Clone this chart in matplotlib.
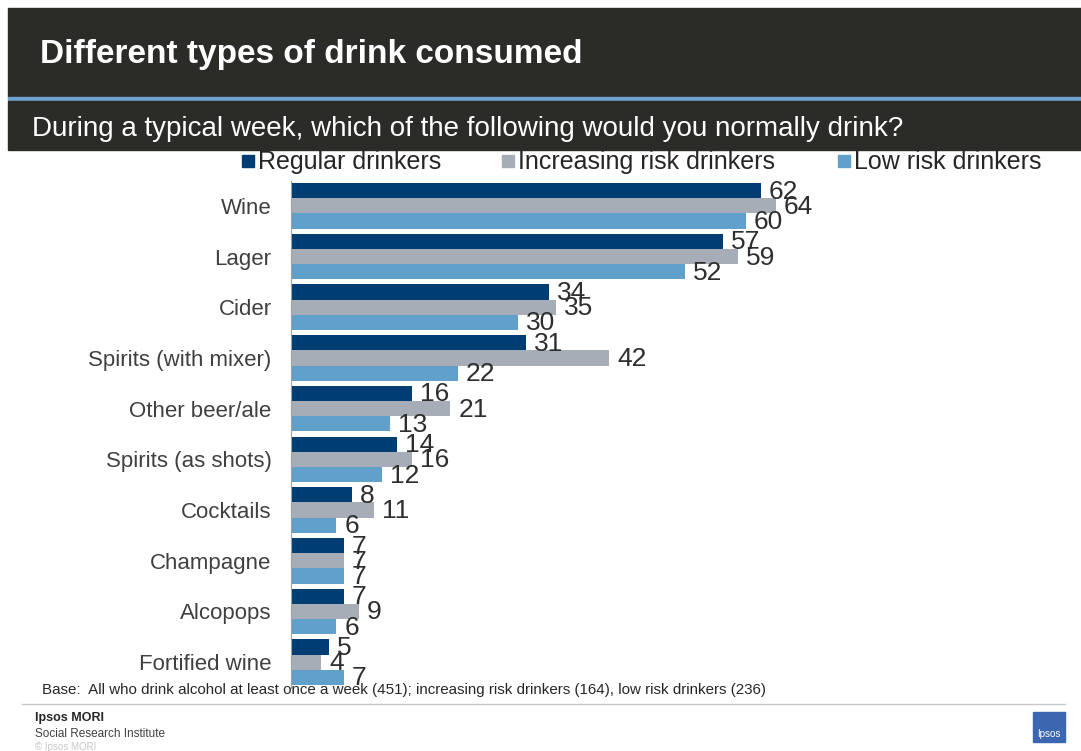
import numpy as np
import matplotlib
matplotlib.use('Agg')
import matplotlib.pyplot as plt
from matplotlib.patches import Rectangle

plt.rcParams['font.family'] = ['Liberation Sans', 'DejaVu Sans']

categories = ['Wine', 'Lager', 'Cider', 'Spirits (with mixer)', 'Other beer/ale',
              'Spirits (as shots)', 'Cocktails', 'Champagne', 'Alcopops', 'Fortified wine']
regular = [62, 57, 34, 31, 16, 14, 8, 7, 7, 5]
increasing = [64, 59, 35, 42, 21, 16, 11, 7, 9, 4]
low_risk = [60, 52, 30, 22, 13, 12, 6, 7, 6, 7]
series_names = ['Regular drinkers', 'Increasing risk drinkers', 'Low risk drinkers']
colors = ['#003d73', '#a6adb6', '#62a0cc']

W, H = 1081, 751
fig = plt.figure(figsize=(W / 100, H / 100), dpi=100)
fig.patch.set_facecolor('white')

def fx(px):
    return px / W

def fy(py):
    return 1 - py / H

# header bands
fig.patches.append(Rectangle((fx(8), fy(97)), fx(W - 8), 89 / H, transform=fig.transFigure,
                             color='#2b2b27', zorder=0))
fig.patches.append(Rectangle((fx(8), fy(101)), fx(W - 8), 4 / H, transform=fig.transFigure,
                             color='#6ea3cf', zorder=0))
fig.patches.append(Rectangle((fx(8), fy(150)), fx(W - 8), 49 / H, transform=fig.transFigure,
                             color='#2b2b27', zorder=0))
fig.text(fx(40), fy(55), 'Different types of drink consumed', color='white',
         fontsize=24, fontweight='bold', va='center', ha='left')
fig.text(fx(32), fy(129), 'During a typical week, which of the following would you normally drink?',
         color='white', fontsize=20, va='center', ha='left')

# legend
leg_x = [242, 502, 838]
for x, name, c in zip(leg_x, series_names, colors):
    fig.patches.append(Rectangle((fx(x), fy(167)), 12 / W, 12 / H, transform=fig.transFigure,
                                 color=c))
    fig.text(fx(x + 16), fy(162), name, color='#262626', fontsize=18, va='center', ha='left')

# bars
ax = fig.add_axes([fx(291), 1 - 687.5 / H, 758 / W, 507 / H])
y = np.arange(len(categories))
h = 0.3
for k, (vals, c) in enumerate(zip([regular, increasing, low_risk], colors)):
    pos = y - h + k * h
    ax.barh(pos, vals, height=h, color=c, zorder=2)
    for p, v in zip(pos, vals):
        ax.annotate(str(v), (v, p), xytext=(8, -1), textcoords='offset pixels',
                    va='center', ha='left', fontsize=19, color='#2e2e2e', zorder=3)

ax.set_xlim(0, 100)
ax.set_ylim(len(categories) - 0.5, -0.5)
ax.set_yticks(y)
ax.set_yticklabels(categories, fontsize=16, color='#404040')
ax.tick_params(axis='y', length=0, pad=14)
ax.set_xticks([])
for s in ['top', 'right', 'bottom']:
    ax.spines[s].set_visible(False)
ax.spines['left'].set_color('#a0a0a0')
ax.patch.set_alpha(0)

# footer
fig.text(fx(42), fy(690), 'Base:  All who drink alcohol at least once a week (451); increasing risk drinkers (164), low risk drinkers (236)',
         fontsize=10.9, color='#262626', va='center', ha='left')
fig.add_artist(plt.Line2D([fx(22), fx(1065)], [fy(704), fy(704)], transform=fig.transFigure,
                          color='#c8c8c8', lw=1))
fig.text(fx(35), fy(718), 'Ipsos MORI', fontsize=9, fontweight='bold', color='#262626',
         va='center', ha='left')
fig.text(fx(35), fy(734), 'Social Research Institute', fontsize=8.5, color='#404040',
         va='center', ha='left')
fig.text(fx(35), fy(747), '© Ipsos MORI', fontsize=7, color='#c8c8c8', va='center', ha='left')
fig.patches.append(Rectangle((fx(1033), fy(742)), 32 / W, 30 / H, transform=fig.transFigure,
                             color='#3b66b0'))
fig.text(fx(1049), fy(734), 'Ipsos', fontsize=7, color='white', va='center', ha='center')

fig.savefig('out.png', dpi=100)
